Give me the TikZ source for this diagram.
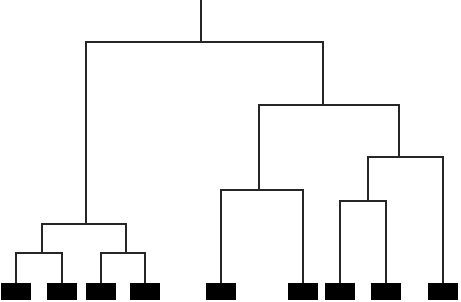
\documentclass[tikz,border=0pt]{standalone}
\begin{document}
\begin{tikzpicture}[x=1pt,y=-1pt,
  leaf/.style={rectangle,fill=black,draw=none,minimum width=30pt,minimum height=17pt,inner sep=0pt,anchor=north},
  branch/.style={draw=black!85,line width=1.2pt}]
\useasboundingbox (0,0) rectangle (461,302);
% leaves
\node[leaf] (l1) at (16,283) {};
\node[leaf] (l2) at (62,283) {};
\node[leaf] (l3) at (101,283) {};
\node[leaf] (l4) at (145,283) {};
\node[leaf] (l5) at (221,283) {};
\node[leaf] (l6) at (303,283) {};
\node[leaf] (l7) at (340,283) {};
\node[leaf] (l8) at (386,283) {};
\node[leaf] (l9) at (443,283) {};
% merge points
\coordinate (top) at (201,0);
\coordinate (root) at (201,42);
\coordinate (a) at (86,224);
\coordinate (a1) at (42,253);
\coordinate (a2) at (126,253);
\coordinate (b) at (323,105);
\coordinate (b1) at (259,190);
\coordinate (b2) at (399,157);
\coordinate (b3) at (368,201);
% connectors
\draw[branch] (top) -- (root);
\draw[branch] (root) -| (a);
\draw[branch] (root) -| (b);
\draw[branch] (a) -| (a1);
\draw[branch] (a) -| (a2);
\draw[branch] (a1) -| (l1.north);
\draw[branch] (a1) -| (l2.north);
\draw[branch] (a2) -| (l3.north);
\draw[branch] (a2) -| (l4.north);
\draw[branch] (b) -| (b1);
\draw[branch] (b) -| (b2);
\draw[branch] (b1) -| (l5.north);
\draw[branch] (b1) -| (l6.north);
\draw[branch] (b2) -| (b3);
\draw[branch] (b2) -| (l9.north);
\draw[branch] (b3) -| (l7.north);
\draw[branch] (b3) -| (l8.north);
\end{tikzpicture}
\end{document}
